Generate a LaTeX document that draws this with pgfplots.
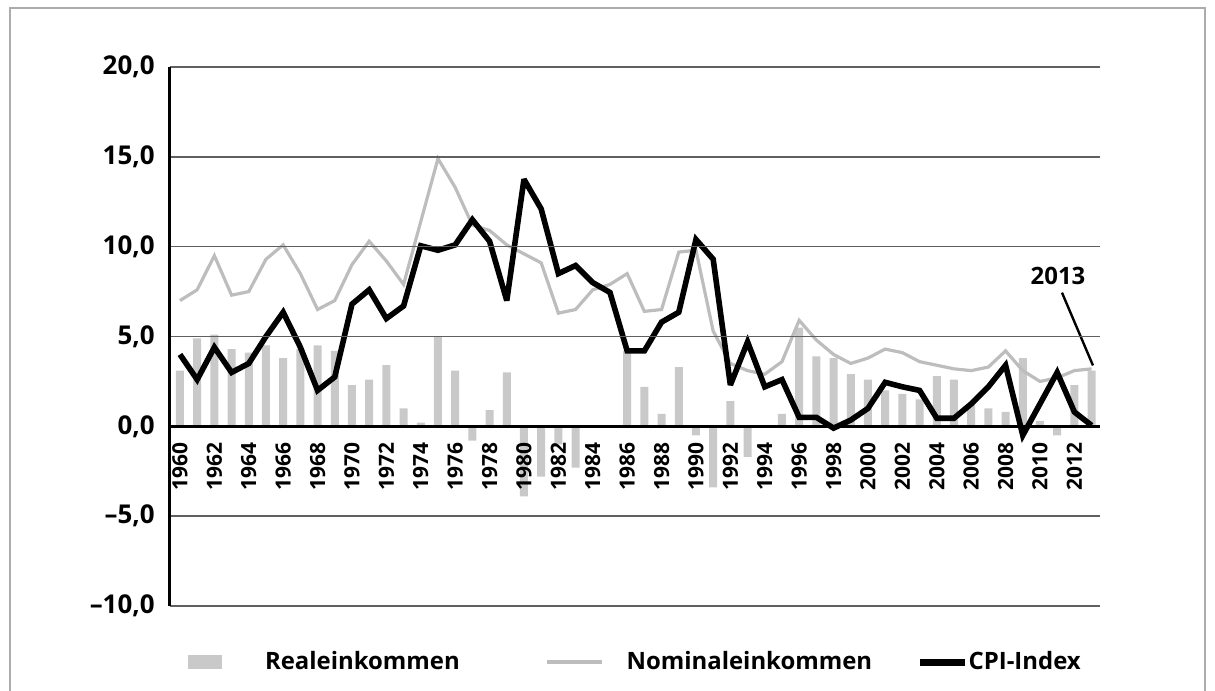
\documentclass[border=0pt]{standalone}
\usepackage{fontspec}
\setmainfont{Open Sans}
\usepackage{pgfplots}
\usepackage{pgfplotstable}
\pgfplotsset{compat=1.18}
\definecolor{barcol}{HTML}{C9C9C9}
\definecolor{nomcol}{HTML}{BDBDBD}
\definecolor{gridcol}{HTML}{606060}

\pgfplotstableread{
year real nom cpi
1960 3.1 7.0 4.0
1961 4.9 7.6 2.6
1962 5.1 9.5 4.4
1963 4.3 7.3 3.0
1964 4.1 7.5 3.5
1965 4.5 9.3 5.0
1966 3.8 10.1 6.35
1967 4.3 8.5 4.4
1968 4.5 6.5 2.0
1969 4.2 7.0 2.75
1970 2.3 9.0 6.8
1971 2.6 10.3 7.6
1972 3.4 9.2 6.0
1973 1.0 7.9 6.7
1974 0.2 11.4 10.05
1975 5.0 14.9 9.8
1976 3.1 13.3 10.1
1977 -0.8 11.2 11.5
1978 0.9 10.9 10.3
1979 3.0 10.1 7.0
1980 -3.9 9.6 13.75
1981 -2.8 9.1 12.1
1982 -1.0 6.3 8.5
1983 -2.3 6.5 8.95
1984 0.0 7.6 8.0
1985 0.0 7.9 7.45
1986 4.2 8.5 4.2
1987 2.2 6.4 4.2
1988 0.7 6.5 5.8
1989 3.3 9.7 6.35
1990 -0.5 9.8 10.4
1991 -3.4 5.3 9.3
1992 1.4 3.5 2.3
1993 -1.7 3.1 4.7
1994 0.0 2.9 2.2
1995 0.7 3.6 2.6
1996 5.5 5.9 0.5
1997 3.9 4.8 0.5
1998 3.8 4.0 -0.1
1999 2.9 3.5 0.35
2000 2.6 3.8 1.0
2001 2.0 4.3 2.45
2002 1.8 4.1 2.2
2003 1.5 3.6 2.0
2004 2.8 3.4 0.45
2005 2.6 3.2 0.45
2006 1.2 3.1 1.25
2007 1.0 3.3 2.2
2008 0.8 4.2 3.4
2009 3.8 3.1 -0.5
2010 0.3 2.5 1.25
2011 -0.5 2.7 3.0
2012 2.3 3.1 0.8
2013 3.1 3.2 0.05
}\datatable

\begin{document}
\begin{tikzpicture}
\useasboundingbox (0,0) rectangle (607.5bp,345.5bp);
\draw[gray!65, line width=0.6bp] (5bp,-2bp) -- (5bp,341.5bp) -- (602.5bp,341.5bp) -- (602.5bp,-2bp);
\begin{axis}[
  at={(85bp,42.5bp)}, anchor=south west,
  scale only axis, width=465bp, height=269.5bp,
  xmin=1959.42, xmax=2013.49, ymin=-10, ymax=20,
  axis x line=middle, axis y line=left,
  axis on top,
  x axis line style={-, line width=1.8bp, black},
  y axis line style={-, line width=1.5bp, black},
  ytick={-10,-5,0,5,10,15,20},
  yticklabels={{–10,0},{–5,0},{0,0},{5,0},{10,0},{15,0},{20,0}},
  yticklabel style={font=\bfseries\fontsize{13}{15}\selectfont, anchor=east, inner sep=0pt, xshift=-7.5bp},
  xtick={1960,1962,...,2012},
  xticklabels={1960,1962,1964,1966,1968,1970,1972,1974,1976,1978,1980,1982,1984,1986,1988,1990,1992,1994,1996,1998,2000,2002,2004,2006,2008,2010,2012},
  xticklabel style={font=\bfseries\fontsize{10.5}{12}\selectfont, rotate=90, anchor=east, inner sep=0pt},
  xticklabel shift=8bp,
  major tick length=0pt,
  tick style={draw=none},
  ymajorgrids, grid style={gridcol, line width=0.7bp},
  clip=false,
  legend columns=3,
  legend style={at={(rel axis cs:0.0194,-0.104)}, anchor=west, draw=none, fill=none,
    inner sep=0pt, outer sep=0pt, column sep=0pt,
    font=\bfseries\fontsize{12}{14}\selectfont, nodes={inner sep=0pt}},
]
\addplot[ybar, bar width=4bp, bar shift=0pt, fill=barcol, draw=none,
  legend image code/.code={\fill[barcol, draw=none] (0bp,-3.5bp) rectangle (17bp,3.5bp); \path[draw=none, fill=none] (0bp,-3.5bp) rectangle (38.5bp,3.5bp);}]
  table[x=year, y=real] {\datatable};
\addlegendentry[text width=140bp, align=left]{Realeinkommen}
\addplot[nomcol, line width=1.6bp, mark=none,
  legend image code/.code={\draw[nomcol, line width=1.6bp] (0bp,0bp) -- (27.5bp,0bp); \path[draw=none, fill=none] (0bp,-3bp) rectangle (40bp,3bp);}]
  table[x=year, y=nom] {\datatable};
\addlegendentry[text width=145bp, align=left]{Nominaleinkommen}
\addplot[black, line width=2.8bp, mark=none, line join=miter, miter limit=3,
  legend image code/.code={\draw[black, line width=3.5bp] (0bp,0bp) -- (22.5bp,0bp); \path[draw=none, fill=none] (0bp,-3bp) rectangle (23.5bp,3bp);}]
  table[x=year, y=cpi] {\datatable};
\addlegendentry{CPI-Index}
\node[font=\bfseries\fontsize{12}{14}\selectfont] at (axis cs:2011.05,8.39) {2013};
\draw[black, line width=1.2bp] (axis cs:2011.28,7.44) -- (axis cs:2013.08,3.39);
\end{axis}
\end{tikzpicture}
\end{document}
